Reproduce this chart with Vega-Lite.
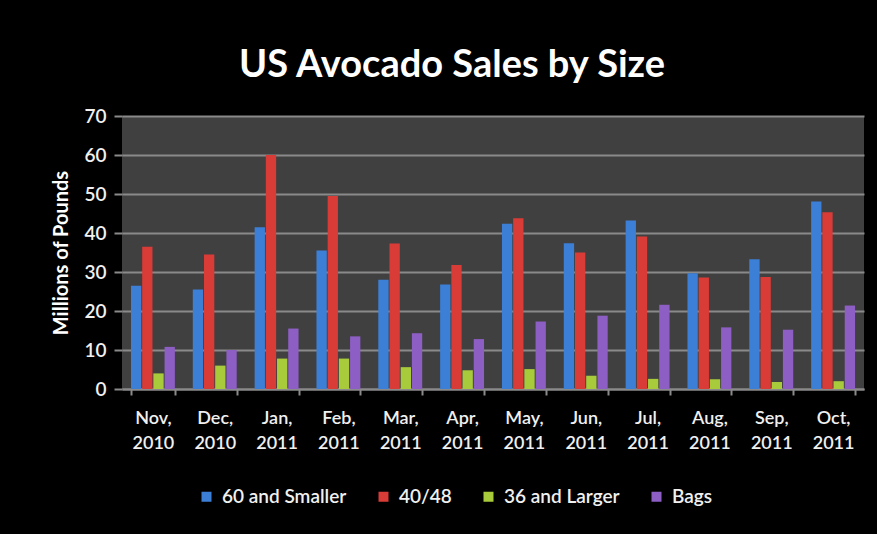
{
  "$schema": "https://vega.github.io/schema/vega-lite/v6.json",
  "width": 742,
  "height": 273,
  "autosize": {"type": "none"},
  "padding": {"left": 122, "top": 116, "right": 13, "bottom": 145},
  "background": "black",
  "title": {
    "text": "US Avocado Sales by Size",
    "font": "Lato",
    "fontSize": 38,
    "fontWeight": "bold",
    "color": "white",
    "anchor": "middle",
    "frame": "group",
    "dx": -41,
    "offset": 22
  },
  "data": {
    "values": [
      {"month": "Nov, 2010", "size": "60 and Smaller", "value": 26.5},
      {"month": "Nov, 2010", "size": "40/48", "value": 36.5},
      {"month": "Nov, 2010", "size": "36 and Larger", "value": 4},
      {"month": "Nov, 2010", "size": "Bags", "value": 10.8},
      {"month": "Dec, 2010", "size": "60 and Smaller", "value": 25.5},
      {"month": "Dec, 2010", "size": "40/48", "value": 34.5},
      {"month": "Dec, 2010", "size": "36 and Larger", "value": 6},
      {"month": "Dec, 2010", "size": "Bags", "value": 10},
      {"month": "Jan, 2011", "size": "60 and Smaller", "value": 41.5},
      {"month": "Jan, 2011", "size": "40/48", "value": 60},
      {"month": "Jan, 2011", "size": "36 and Larger", "value": 7.8},
      {"month": "Jan, 2011", "size": "Bags", "value": 15.5},
      {"month": "Feb, 2011", "size": "60 and Smaller", "value": 35.5},
      {"month": "Feb, 2011", "size": "40/48", "value": 49.5},
      {"month": "Feb, 2011", "size": "36 and Larger", "value": 7.8},
      {"month": "Feb, 2011", "size": "Bags", "value": 13.5},
      {"month": "Mar, 2011", "size": "60 and Smaller", "value": 28},
      {"month": "Mar, 2011", "size": "40/48", "value": 37.3},
      {"month": "Mar, 2011", "size": "36 and Larger", "value": 5.6},
      {"month": "Mar, 2011", "size": "Bags", "value": 14.3},
      {"month": "Apr, 2011", "size": "60 and Smaller", "value": 26.8},
      {"month": "Apr, 2011", "size": "40/48", "value": 31.8},
      {"month": "Apr, 2011", "size": "36 and Larger", "value": 4.8},
      {"month": "Apr, 2011", "size": "Bags", "value": 12.8},
      {"month": "May, 2011", "size": "60 and Smaller", "value": 42.4},
      {"month": "May, 2011", "size": "40/48", "value": 43.8},
      {"month": "May, 2011", "size": "36 and Larger", "value": 5.1},
      {"month": "May, 2011", "size": "Bags", "value": 17.3},
      {"month": "Jun, 2011", "size": "60 and Smaller", "value": 37.4},
      {"month": "Jun, 2011", "size": "40/48", "value": 35},
      {"month": "Jun, 2011", "size": "36 and Larger", "value": 3.4},
      {"month": "Jun, 2011", "size": "Bags", "value": 18.8},
      {"month": "Jul, 2011", "size": "60 and Smaller", "value": 43.2},
      {"month": "Jul, 2011", "size": "40/48", "value": 39.1},
      {"month": "Jul, 2011", "size": "36 and Larger", "value": 2.6},
      {"month": "Jul, 2011", "size": "Bags", "value": 21.6},
      {"month": "Aug, 2011", "size": "60 and Smaller", "value": 29.7},
      {"month": "Aug, 2011", "size": "40/48", "value": 28.6},
      {"month": "Aug, 2011", "size": "36 and Larger", "value": 2.5},
      {"month": "Aug, 2011", "size": "Bags", "value": 15.8},
      {"month": "Sep, 2011", "size": "60 and Smaller", "value": 33.3},
      {"month": "Sep, 2011", "size": "40/48", "value": 28.7},
      {"month": "Sep, 2011", "size": "36 and Larger", "value": 1.8},
      {"month": "Sep, 2011", "size": "Bags", "value": 15.2},
      {"month": "Oct, 2011", "size": "60 and Smaller", "value": 48.1},
      {"month": "Oct, 2011", "size": "40/48", "value": 45.3},
      {"month": "Oct, 2011", "size": "36 and Larger", "value": 2},
      {"month": "Oct, 2011", "size": "Bags", "value": 21.4}
    ]
  },
  "mark": {"type": "bar"},
  "encoding": {
    "x": {
      "field": "month",
      "type": "nominal",
      "sort": null,
      "scale": {"paddingInner": 0.29, "paddingOuter": 0.145},
      "axis": {
        "title": null,
        "labelAngle": 0,
        "labelExpr": "split(datum.label, ' ')",
        "labelFont": "Lato",
        "labelFontSize": 18,
        "labelFontWeight": 600,
        "labelColor": "#f0f0f0",
        "labelLineHeight": 25,
        "labelPadding": 14,
        "labelBaseline": "top",
        "tickBand": "extent",
        "tickColor": "#8a8a8a",
        "tickSize": 6,
        "tickWidth": 2,
        "domainColor": "#8a8a8a",
        "domainWidth": 2
      }
    },
    "xOffset": {
      "field": "size",
      "type": "nominal",
      "sort": ["60 and Smaller", "40/48", "36 and Larger", "Bags"],
      "scale": {"paddingInner": 0.08}
    },
    "y": {
      "field": "value",
      "type": "quantitative",
      "scale": {"domain": [0, 70]},
      "axis": {
        "values": [0, 10, 20, 30, 40, 50, 60, 70],
        "title": "Millions of Pounds",
        "titleFont": "Lato",
        "titleFontSize": 20,
        "titleFontWeight": "bold",
        "titleColor": "white",
        "titlePadding": 12,
        "labelFont": "Lato",
        "labelFontSize": 19,
        "labelFontWeight": 600,
        "labelColor": "#f0f0f0",
        "labelPadding": 8,
        "domain": false,
        "tickColor": "#8a8a8a",
        "tickSize": 8,
        "tickWidth": 2,
        "gridColor": "#8a8a8a",
        "gridWidth": 2
      }
    },
    "color": {
      "field": "size",
      "type": "nominal",
      "sort": ["60 and Smaller", "40/48", "36 and Larger", "Bags"],
      "scale": {
        "domain": ["60 and Smaller", "40/48", "36 and Larger", "Bags"],
        "range": ["#3c7fd6", "#d93b36", "#a8cb3b", "#8d5ec4"]
      },
      "legend": {
        "title": null,
        "orient": "none",
        "direction": "horizontal",
        "legendX": 75,
        "legendY": 371,
        "symbolType": "square",
        "symbolSize": 100,
        "symbolStrokeWidth": 0,
        "labelFont": "Lato",
        "labelFontSize": 19,
        "labelFontWeight": 600,
        "labelColor": "#f0f0f0",
        "labelOffset": 6,
        "columnPadding": 27
      }
    }
  },
  "config": {
    "view": {"fill": "#404040", "stroke": null}
  }
}
